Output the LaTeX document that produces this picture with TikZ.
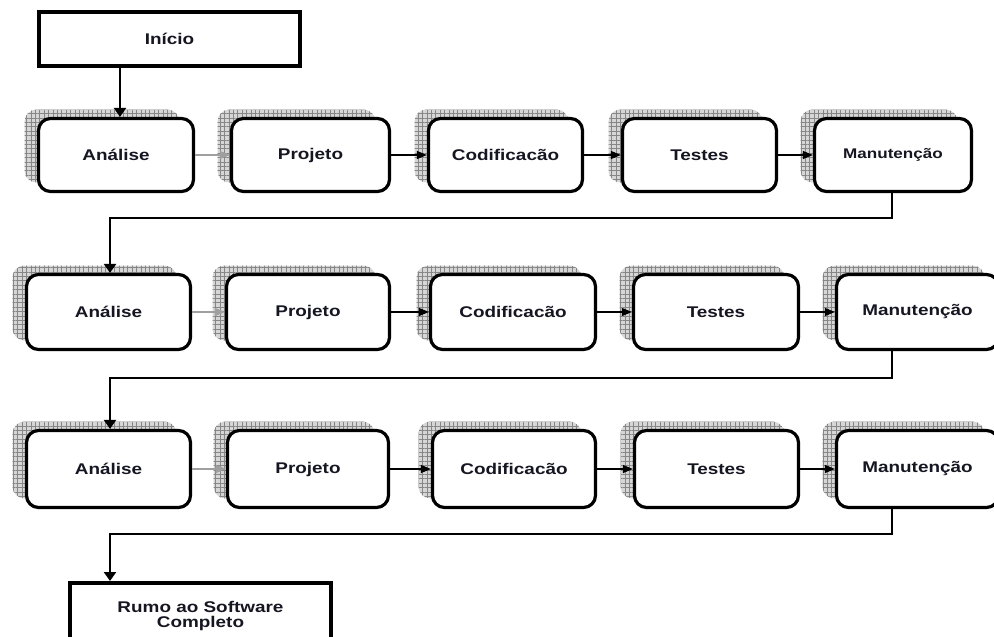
\documentclass[tikz,border=0pt]{standalone}
\usepackage{fontspec}
\newfontfamily\labelfont{Liberation Sans}[FakeStretch=1.22]
\usetikzlibrary{arrows.meta,shadows,patterns.meta}
\definecolor{ink}{RGB}{22,22,34}
\begin{document}
\begin{tikzpicture}[x=1pt,y=-1pt,
  txt/.style={font=\labelfont\bfseries\fontsize{15.5}{15}\selectfont, text=ink, align=center},
  gridshadow/.style={
    general shadow={draw=none, fill=gray!32, shadow xshift=-14pt, shadow yshift=9pt},
    general shadow={draw=none, pattern={Hatch[angle=0,distance=4.4pt,line width=0.5pt]},
                    pattern color=gray!95, shadow xshift=-14pt, shadow yshift=9pt}},
  stage/.style={txt, gridshadow, draw=black, line width=3.2pt, fill=white,
    rounded corners=12pt, inner sep=0pt},
  endbox/.style={txt, draw=black, line width=4pt, fill=white, inner sep=0pt},
  flow/.style={line width=1.2pt, -{Triangle[length=10pt,width=8pt]}},
  flowgray/.style={flow, draw=gray!75, fill=gray!75},
  link/.style={line width=2.6pt},
  linkarrow/.style={link, -{Triangle[length=9pt,width=12pt]}}
]
\useasboundingbox (0,0) rectangle (994,637);
\clip (0,0) rectangle (994,637);

% start box
\node[endbox, minimum width=261pt, minimum height=54pt] (ini) at (169.5,39) {Início};

% first cycle
\node[stage, minimum width=155pt, minimum height=73pt] (a1) at (116,155) {Análise};
\node[stage, minimum width=158pt, minimum height=73pt] (p1) at (310.5,155) {Projeto};
\node[stage, minimum width=154pt, minimum height=73pt] (c1) at (505.5,155) {Codificacão};
\node[stage, minimum width=154pt, minimum height=73pt] (t1) at (699.5,155) {Testes};
\node[stage, minimum width=157pt, minimum height=73pt, font=\labelfont\bfseries\fontsize{14}{14}\selectfont] (m1) at (893,155) {Manutenção};

% second cycle
\node[stage, minimum width=164pt, minimum height=75pt] (a2) at (108.5,312) {Análise};
\node[stage, minimum width=163pt, minimum height=75pt] (p2) at (308,312) {Projeto};
\node[stage, minimum width=165pt, minimum height=75pt] (c2) at (513,312) {Codificacão};
\node[stage, minimum width=165pt, minimum height=75pt] (t2) at (716,312) {Testes};
\node[stage, minimum width=162pt, minimum height=75pt] (m2) at (917.5,312) {Manutenção};

% third cycle
\node[stage, minimum width=164pt, minimum height=77pt] (a3) at (108.5,469) {Análise};
\node[stage, minimum width=161pt, minimum height=77pt] (p3) at (308,469) {Projeto};
\node[stage, minimum width=163pt, minimum height=77pt] (c3) at (514,469) {Codificacão};
\node[stage, minimum width=164pt, minimum height=77pt] (t3) at (716.5,469) {Testes};
\node[stage, minimum width=162pt, minimum height=77pt] (m3) at (917.5,469) {Manutenção};

% end box
\node[endbox, minimum width=261pt, minimum height=80pt, text depth=17pt] (fin) at (200.5,623) {Rumo ao Software\\Completo};

% stage-to-stage arrows
\draw[flowgray] (a1.east) -- (p1.west);
\draw[flow] (p1.east) -- (c1.west);
\draw[flow] (c1.east) -- (t1.west);
\draw[flow] (t1.east) -- (m1.west);
\draw[flowgray] (a2.east) -- (p2.west);
\draw[flow] (p2.east) -- (c2.west);
\draw[flow] (c2.east) -- (t2.west);
\draw[flow] (t2.east) -- (m2.west);
\draw[flowgray] (a3.east) -- (p3.west);
\draw[flow] (p3.east) -- (c3.west);
\draw[flow] (c3.east) -- (t3.west);
\draw[flow] (t3.east) -- (m3.west);

% links between cycles
\coordinate (s0) at (120,0);
\coordinate (k1) at (892,218);
\coordinate (k2) at (892,378);
\coordinate (k3) at (892,534);
\coordinate (e1) at (110,218);
\coordinate (e2) at (110,378);
\coordinate (e3) at (110,534);
\draw[linkarrow] (s0 |- ini.south) -- (s0 |- a1.north);
\draw[linkarrow] (m1.south -| k1) -- (k1) -- (e1) -- (e1 |- a2.north);
\draw[linkarrow] (m2.south -| k2) -- (k2) -- (e2) -- (e2 |- a3.north);
\draw[linkarrow] (m3.south -| k3) -- (k3) -- (e3) -- (e3 |- fin.north);
\end{tikzpicture}
\end{document}
